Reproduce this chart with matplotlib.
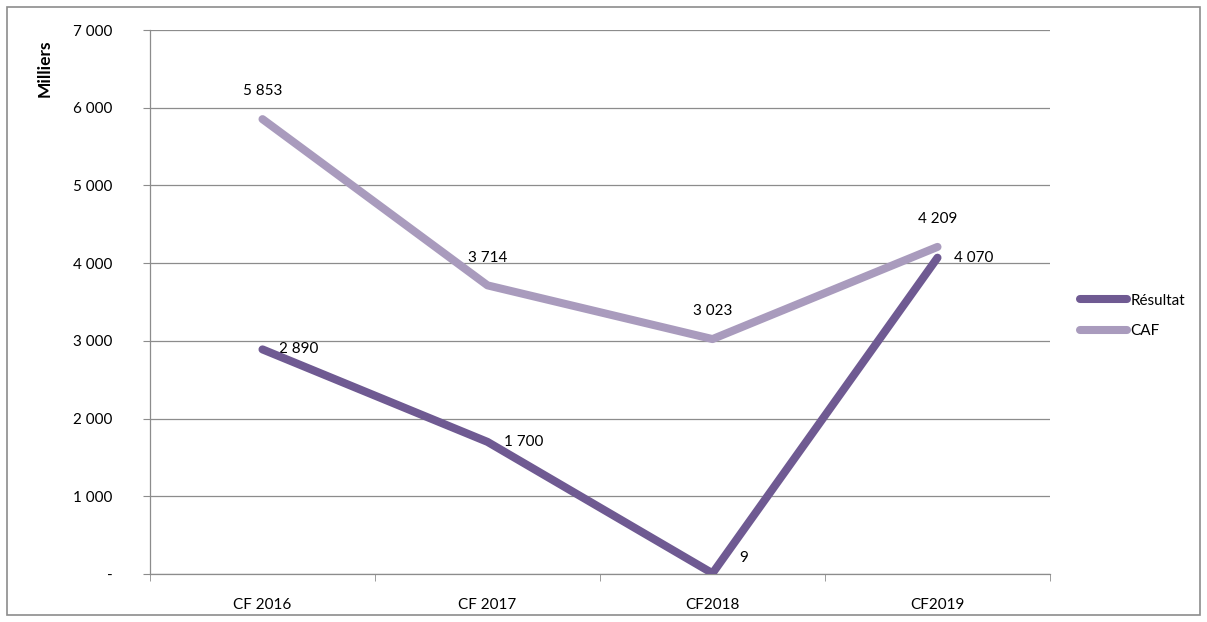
import matplotlib.pyplot as plt
import numpy as np
from matplotlib.patches import Rectangle

categories = ['CF 2016', 'CF 2017', 'CF2018', 'CF2019']
resultat = [2890, 1700, 9, 4070]
caf = [5853, 3714, 3023, 4209]
yticks = [0, 1000, 2000, 3000, 4000, 5000, 6000, 7000]


def fmt(v):
    if v == 0:
        return '-'
    return f'{v:,}'.replace(',', ' ')


plt.rcParams['font.family'] = ['Lato', 'DejaVu Sans']
plt.rcParams['font.size'] = 11

fig = plt.figure(figsize=(12.07, 6.22), dpi=100)
ax = fig.add_axes([150 / 1207, 1 - 574 / 622, 900 / 1207, 544 / 622])

# outer chart border
fig.patches.append(Rectangle((7 / 1207, 7 / 622), 1193 / 1207, 608 / 622,
                             transform=fig.transFigure, fill=False,
                             edgecolor='#8c8c8c', linewidth=1.2))

x = np.arange(len(categories))
c_res = '#6f5a92'
c_caf = '#a99bbd'
ax.plot(x, caf, color=c_caf, linewidth=5.8, solid_capstyle='round', label='CAF', zorder=3)
ax.plot(x, resultat, color=c_res, linewidth=5.8, solid_capstyle='round', label='Résultat', zorder=4)

for i, v in enumerate(caf):
    ax.annotate(fmt(v), (x[i], v), xytext=(0, 20), textcoords='offset points',
                ha='center', va='center')
for i, v in enumerate(resultat):
    off = (19, 11) if v < 100 else (12, 0)
    ax.annotate(fmt(v), (x[i], v), xytext=off, textcoords='offset points',
                ha='left', va='center')

ax.set_xlim(-0.5, 3.5)
ax.set_ylim(0, 7000)
ax.set_yticks(yticks)
ax.set_yticklabels([fmt(t) for t in yticks])
ax.set_xticks(x)
ax.set_xticklabels(categories)
ax.set_xticks(np.arange(-0.5, 4, 1), minor=True)
ax.tick_params(axis='x', which='major', length=0, pad=17)
ax.tick_params(axis='x', which='minor', length=5, color='#8c8c8c', direction='out')
ax.tick_params(axis='y', length=5, color='#8c8c8c', direction='out', pad=22)

ax.grid(axis='y', color='#8c8c8c', linewidth=0.9)
ax.set_axisbelow(True)
for s in ['top', 'right']:
    ax.spines[s].set_visible(False)
for s in ['left', 'bottom']:
    ax.spines[s].set_color('#8c8c8c')
    ax.spines[s].set_linewidth(0.9)

fig.text(45 / 1207, 1 - 68 / 622, 'Milliers', rotation=90, ha='center', va='center',
         fontweight='bold', fontsize=12.5)

h, l = ax.get_legend_handles_labels()
fig.legend(h[::-1], l[::-1], loc='center left', bbox_to_anchor=(1066 / 1207, 1 - 316 / 622),
           frameon=False, handlelength=3.1, handletextpad=0.2, labelspacing=1.1)

fig.savefig('out.png', dpi=100)
